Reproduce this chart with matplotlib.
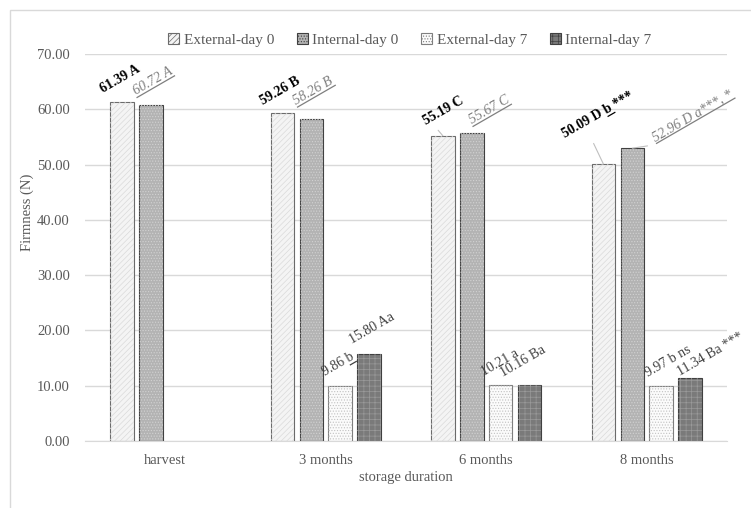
import numpy as np
import matplotlib
matplotlib.use("Agg")
import matplotlib.pyplot as plt
from matplotlib.patches import Patch, Rectangle
from matplotlib.lines import Line2D

plt.rcParams["font.family"] = "Liberation Serif"
plt.rcParams["hatch.linewidth"] = 0.5

# firmness (N) per storage period
periods = ["harvest", "3 months", "6 months", "8 months"]
series = ["External-day 0", "Internal-day 0", "External-day 7", "Internal-day 7"]
ext_day0 = [61.39, 59.26, 55.19, 50.09]
int_day0 = [60.72, 58.26, 55.67, 52.96]
ext_day7 = [np.nan, 9.86, 10.21, 9.97]
int_day7 = [np.nan, 15.80, 10.16, 11.34]

# value labels: (text, text before the underline, underlined part)
ext_day0_labels = [
    ("61.39 A", None, None),
    ("59.26 B", None, None),
    ("55.19 C", None, None),
    ("50.09 D b ***", "50.09 D ", "b"),
]
int_day0_labels = [
    ("60.72 A", "", "60.72 A"),
    ("58.26 B", "", "58.26 B"),
    ("55.67 C", "", "55.67 C"),
    ("52.96 D a***, *", "", "52.96 D a***, *"),
]
ext_day7_labels = [None, ("9.86 b", "9.86 ", "b"), ("10.21 a", None, None),
                   ("9.97 b ns", None, None)]
int_day7_labels = [None, ("15.80 Aa", None, None), ("10.16 Ba", None, None),
                   ("11.34 Ba ***", None, None)]

values = [ext_day0, int_day0, ext_day7, int_day7]
labels = [ext_day0_labels, int_day0_labels, ext_day7_labels, int_day7_labels]

# face, hatch, hatch colour, edge
styles = [
    ("#f4f4f4", "//////", "#dadada", "#6b6b6b"),
    ("#b3b3b3", "......", "#d2d2d2", "#404040"),
    ("#fbfbfb", "......", "#c2c2c2", "#7f7f7f"),
    ("#7a7a7a", "+++", "#9a9a9a", "#404040"),
]
# colour, weight, style of each series' labels
label_fonts = [("black", "bold", "normal"), ("#7f7f7f", "normal", "italic"),
               ("#404040", "normal", "normal"), ("#404040", "normal", "normal")]

# baseline start of each label, in pixels from the bar top centre
offsets = [
    [(-19, 9), (-19, 8), (-17, 11), (-38, 26)],
    [(-15, 10), (-15, 14), (0, 9), (23, 7)],
    [None, (-15, 10), (-17, 9), (-13, 9)],
    [None, (-17, 10), (-27, 8), (-10, 2)],
]
# leader lines from the bar top to the label (relpos on the label box)
leaders = {(0, 2): (0.33, 0.0), (0, 3): (0.42, 0.0), (1, 3): (0.35, 0.05)}

angle = 30
fig = plt.figure(figsize=(7.51, 5.08), dpi=100)
ax = fig.add_axes([85 / 751, 1 - 441 / 508, 642 / 751, 387 / 508])

x = np.arange(len(periods))
width = 0.146
step = 0.18
handles = []
underlines = []
for i, (vals, st) in enumerate(zip(values, styles)):
    face, hatch, hcol, edge = st
    color, weight, style = label_fonts[i]
    pos = x + (i - 1.5) * step
    ax.bar(pos, vals, width, color=face, edgecolor=edge, linewidth=0.8, zorder=2)
    ax.bar(pos, vals, width, fill=False, hatch=hatch, edgecolor=hcol,
           linewidth=0, zorder=2)
    handles.append(Patch(facecolor=face, edgecolor=edge, hatch=hatch, linewidth=0.8))
    for j, (v, lab) in enumerate(zip(vals, labels[i])):
        if lab is None:
            continue
        text, before, under = lab
        arrow = None
        if (i, j) in leaders:
            arrow = dict(arrowstyle="-", color="#bfbfbf", lw=0.8,
                         shrinkA=0, shrinkB=0, relpos=leaders[(i, j)])
        ax.annotate(text, xy=(pos[j], v), xytext=offsets[i][j],
                    textcoords="offset pixels", rotation=angle,
                    rotation_mode="anchor", ha="left", va="baseline",
                    fontsize=10, color=color, fontweight=weight,
                    fontstyle=style, arrowprops=arrow, zorder=3)
        if under is not None:
            underlines.append((pos[j], v, offsets[i][j], before, under, i))

ax.set_xlim(-0.5, 3.5)
ax.set_ylim(0, 70)
ax.set_yticks(np.arange(0, 71, 10))
ax.set_yticklabels([f"{t:.2f}" for t in np.arange(0, 71, 10)])
ax.set_xticks(x)
ax.set_xticklabels(periods)
ax.tick_params(length=0, labelsize=10.5, labelcolor="#595959")
ax.tick_params(axis="y", pad=11)
ax.tick_params(axis="x", pad=9)
ax.grid(axis="y", color="#d9d9d9", linewidth=1)
ax.set_axisbelow(True)
for side in ["left", "right", "top"]:
    ax.spines[side].set_visible(False)
ax.spines["bottom"].set_color("#d9d9d9")

fig.text(27 / 751, 1 - 212 / 508, "Firmness (N)", rotation=90, ha="center",
         va="center", fontsize=10.5, color="#595959")
fig.text(406 / 751, 1 - 477 / 508, "storage duration", ha="center",
         va="center", fontsize=10.5, color="#595959")

fig.legend(handles, series, ncol=4, loc="center",
           bbox_to_anchor=(410 / 751, 1 - 40 / 508), frameon=False,
           fontsize=11, handlelength=0.7, handleheight=0.7,
           handletextpad=0.3, columnspacing=1.5, labelcolor="#595959")

# chart frame
fig.add_artist(Rectangle((10 / 751, -0.1), 1.0, 1.1 - 10 / 508,
                         transform=fig.transFigure, fill=False,
                         edgecolor="#d9d9d9", linewidth=1))

# matplotlib text has no underline, so draw them as rotated lines
renderer = fig.canvas.get_renderer()


def text_width(s, i):
    if not s:
        return 0.0
    color, weight, style = label_fonts[i]
    t = fig.text(0, 0, s, fontsize=10, fontweight=weight, fontstyle=style)
    w = t.get_window_extent(renderer).width
    t.remove()
    return w


theta = np.deg2rad(angle)
along = np.array([np.cos(theta), np.sin(theta)])
down = np.array([np.sin(theta), -np.cos(theta)])
for xv, v, off, before, under, i in underlines:
    start = ax.transData.transform((xv, v)) + np.array(off, dtype=float)
    p0 = start + text_width(before, i) * along + 2.5 * down
    p1 = p0 + text_width(under, i) * along
    pts = fig.transFigure.inverted().transform(np.vstack([p0, p1]))
    fig.add_artist(Line2D(pts[:, 0], pts[:, 1], transform=fig.transFigure,
                          color=label_fonts[i][0], linewidth=0.9))

fig.savefig("out.png", dpi=100)
